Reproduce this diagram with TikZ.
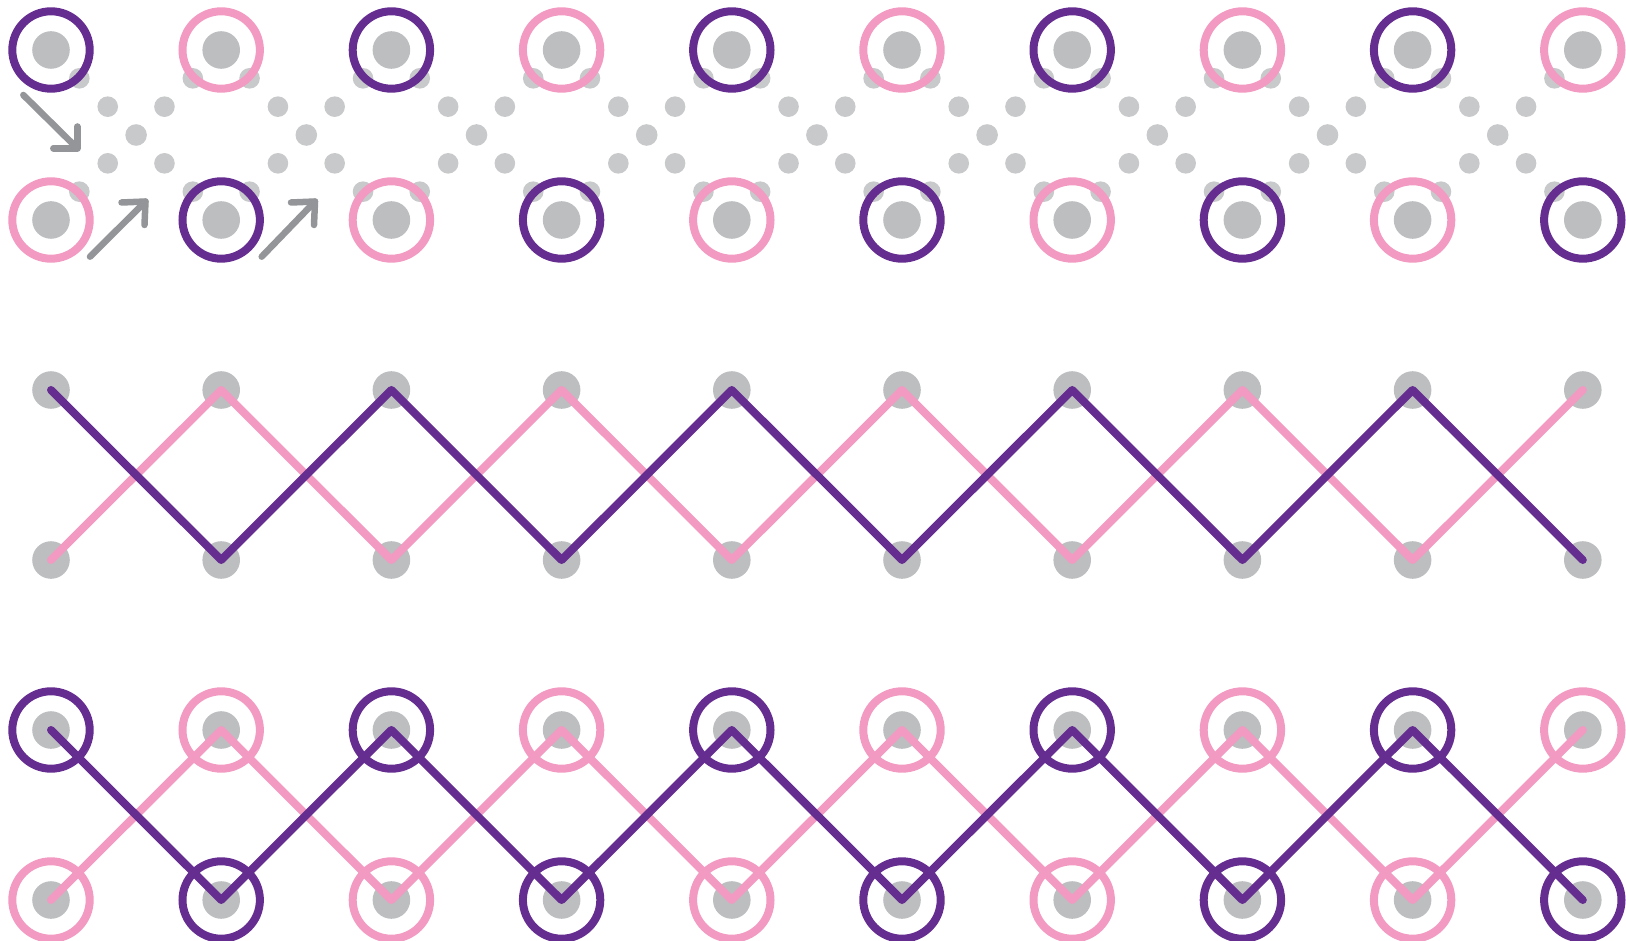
\documentclass[tikz,border=0pt]{standalone}
\usetikzlibrary{calc}
\definecolor{ringpurple}{HTML}{662D91}
\definecolor{ringpink}{HTML}{F29AC1}
\definecolor{dotgray}{HTML}{BCBEC0}
\definecolor{smallgray}{HTML}{C8C9CB}
\definecolor{arrowgray}{HTML}{939598}
\tikzset{
  bigdot/.style={fill=dotgray},
  smalldot/.style={fill=smallgray},
  purplering/.style={draw=ringpurple, line width=8pt},
  pinkring/.style={draw=ringpink, line width=8pt},
  purpleline/.style={draw=ringpurple, line width=8pt, line cap=round, line join=round},
  pinkline/.style={draw=ringpink, line width=8pt, line cap=round, line join=round},
  grayarrow/.style={draw=arrowgray, line width=6.5pt, line cap=round, line join=round}
}
\begin{document}
\begin{tikzpicture}[x=1pt,y=-1pt]
\useasboundingbox (0,0) rectangle (1626,941);
\foreach \i in {0,...,9}{
  \pgfmathsetmacro{\xx}{51+170.2*\i}
  \coordinate (A\i) at (\xx,50);
  \coordinate (B\i) at (\xx,220);
  \coordinate (C\i) at (\xx,390);
  \coordinate (D\i) at (\xx,560);
  \coordinate (E\i) at (\xx,730);
  \coordinate (F\i) at (\xx,900);
}
% big gray dots
\foreach \i in {0,...,9}{
  \foreach \r in {A,B,C,D,E,F}{
    \fill[bigdot] (\r\i) circle (18.8);
  }
}
% small dots in the top section
\foreach \i [evaluate=\i as \j using int(\i+1)] in {0,...,8}{
  \foreach \t in {1,2,4,5}{
    \fill[smalldot] ($(A\i)!\t/6!(B\j)$) circle (10.3);
    \fill[smalldot] ($(B\i)!\t/6!(A\j)$) circle (10.3);
  }
  \fill[smalldot] ($(A\i)!0.5!(B\j)$) circle (10.8);
}
% rings
\foreach \i in {0,2,4,6,8}{
  \draw[purplering] (A\i) circle (38.7);
  \draw[pinkring] (B\i) circle (38.7);
  \draw[purplering] (E\i) circle (38.7);
  \draw[pinkring] (F\i) circle (38.7);
}
\foreach \i in {1,3,5,7,9}{
  \draw[pinkring] (A\i) circle (38.7);
  \draw[purplering] (B\i) circle (38.7);
  \draw[pinkring] (E\i) circle (38.7);
  \draw[purplering] (F\i) circle (38.7);
}
% arrows
\draw[grayarrow] (23.3,95) -- (77.3,148.3);
\draw[grayarrow] (77.3,126.5) -- (77.3,148.3) -- (53.3,148.3);
\draw[grayarrow] (90,256.7) -- (145.5,201.5);
\draw[grayarrow] (121.5,202.5) -- (145.5,201.5) -- (144.5,225);
\draw[grayarrow] (261.7,256.7) -- (315,201.5);
\draw[grayarrow] (291,202.5) -- (315,201.5) -- (314,225);
% middle zigzags
\draw[pinkline] (D0) -- (C1) -- (D2) -- (C3) -- (D4) -- (C5) -- (D6) -- (C7) -- (D8) -- (C9);
\draw[purpleline] (C0) -- (D1) -- (C2) -- (D3) -- (C4) -- (D5) -- (C6) -- (D7) -- (C8) -- (D9);
% bottom zigzags
\draw[pinkline] (F0) -- (E1) -- (F2) -- (E3) -- (F4) -- (E5) -- (F6) -- (E7) -- (F8) -- (E9);
\draw[purpleline] (E0) -- (F1) -- (E2) -- (F3) -- (E4) -- (F5) -- (E6) -- (F7) -- (E8) -- (F9);
\end{tikzpicture}
\end{document}
